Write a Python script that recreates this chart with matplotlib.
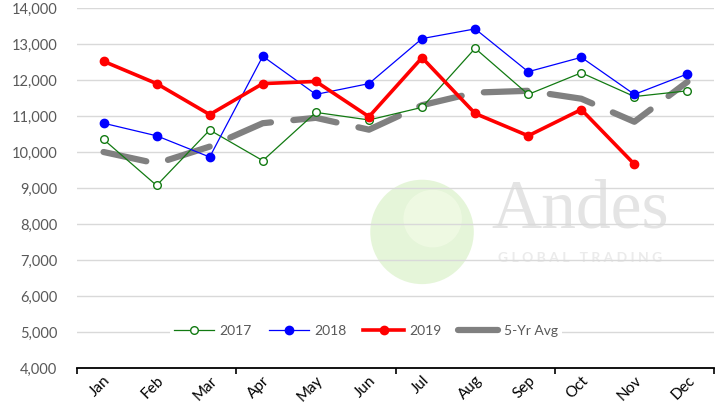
import matplotlib
matplotlib.use("Agg")
import matplotlib.pyplot as plt
import numpy as np
from matplotlib.patches import Ellipse
from matplotlib.ticker import FuncFormatter, FixedLocator, NullFormatter

months = ["Jan", "Feb", "Mar", "Apr", "May", "Jun", "Jul", "Aug", "Sep", "Oct", "Nov", "Dec"]
y2017 = [10350, 9070, 10610, 9760, 11100, 10890, 11240, 12880, 11600, 12200, 11540, 11700]
y2018 = [10800, 10450, 9860, 12660, 11600, 11900, 13150, 13420, 12230, 12630, 11600, 12170]
y2019 = [12520, 11900, 11040, 11900, 11960, 10980, 12620, 11070, 10450, 11180, 9660, np.nan]
avg5 = [10000, 9680, 10150, 10800, 10950, 10620, 11300, 11650, 11700, 11480, 10840, 11950]

plt.rcParams['font.family'] = ['Lato', 'DejaVu Sans']

fig = plt.figure(figsize=(7.17, 4.09), dpi=100)
ax = fig.add_axes([77/717, 1-368/409, (714-77)/717, 360/409])

x = np.arange(len(months))

# faint company watermark behind the data
ax.add_patch(Ellipse((6.0, 7780), 1.95, 2900, facecolor="#e4f5d7",
                     edgecolor="none", alpha=0.95, zorder=0))
ax.add_patch(Ellipse((6.2, 8150), 1.1, 1600, facecolor="#f0fae4",
                     edgecolor="none", alpha=0.9, zorder=0))
ax.text(8.98, 7900, "Andes", fontsize=50, family="Liberation Serif", color="#e4e4e4",
        ha="center", va="baseline", zorder=0)
ax.text(8.98, 7060, "G L O B A L   T R A D I N G", fontsize=10, color="#ebebeb",
        ha="center", va="center", zorder=0, fontweight="bold")

ax.plot(x, avg5, color="#808080", lw=4.5, dashes=(7, 3.6), dash_capstyle="round",
        solid_capstyle="round", label="5-Yr Avg", zorder=2)
ax.plot(x, y2017, color="#127a12", lw=0.9, marker="o", ms=5.5, mfc="white",
        mec="#127a12", mew=1.0, label="2017", zorder=3)
ax.plot(x, y2018, color="#0000ff", lw=0.9, marker="o", ms=6, mfc="#0000ff",
        mec="#0000ff", label="2018", zorder=4)
ax.plot(x, y2019, color="#ff0000", lw=2.6, marker="o", ms=6, mfc="#ff0000",
        mec="#ff0000", label="2019", zorder=5)

ax.set_xlim(-0.5, 11.5)
ax.set_ylim(4000, 14000)
ax.set_yticks(np.arange(4000, 14001, 1000))
ax.yaxis.set_major_formatter(FuncFormatter(lambda v, p: f"{int(v):,}"))
ax.grid(axis="y", color="#d9d9d9", lw=1.0)
ax.set_axisbelow(True)

ax.xaxis.set_major_locator(FixedLocator([-0.5, 2.5, 5.5, 8.5, 11.5]))
ax.xaxis.set_major_formatter(NullFormatter())
ax.xaxis.set_minor_locator(FixedLocator(x))
ax.set_xticklabels(months, minor=True)
ax.tick_params(axis="x", which="major", length=4, width=1.2, color="black", direction="out")
ax.tick_params(axis="x", which="minor", length=0, pad=4, labelsize=11, labelcolor="black",
               labelrotation=45)
for lbl in ax.get_xticklabels(minor=True):
    lbl.set_ha("right")
    lbl.set_rotation_mode("anchor")
ax.tick_params(axis="y", length=0, labelsize=10.5, labelcolor="#595959", pad=14)

for s in ["top", "right", "left"]:
    ax.spines[s].set_visible(False)
ax.spines["bottom"].set_color("black")
ax.spines["bottom"].set_linewidth(1.3)

handles, labels = ax.get_legend_handles_labels()
order = [1, 2, 3, 0]
leg = ax.legend([handles[i] for i in order], [labels[i] for i in order], ncol=4,
                loc="center", bbox_to_anchor=(366/717, 1-331/409),
                bbox_transform=fig.transFigure, frameon=True, fontsize=10,
                handlelength=2.9, columnspacing=1.2, handletextpad=0.4, borderpad=0.3)
leg.get_frame().set_facecolor("white")
leg.get_frame().set_edgecolor("none")
leg.get_frame().set_alpha(1)
for t in leg.get_texts():
    t.set_color("#595959")

fig.savefig("out.png", dpi=100)
